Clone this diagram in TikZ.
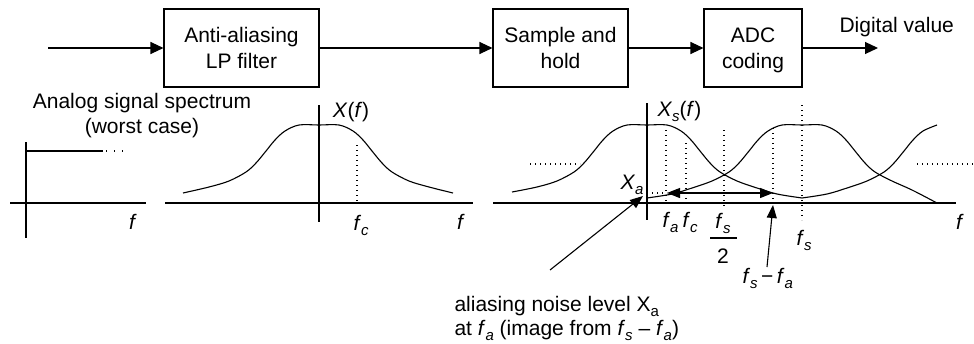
\documentclass[tikz,border=0pt]{standalone}
\usepackage{fontspec}
\setmainfont{Liberation Sans}
\usetikzlibrary{arrows.meta}
\newcommand\sbs[1]{\raisebox{-5pt}{\fontsize{15}{15}\selectfont #1}}
\begin{document}
\begin{tikzpicture}[x=1pt,y=-1pt, line width=1.1pt,
  txt/.style={font=\fontsize{21}{25.5}\selectfont, inner sep=0pt},
  blk/.style={draw, txt, align=center, minimum height=78pt, text depth=0pt},
  arr/.style={-{Triangle[length=13pt,width=12pt]}},
  sarr/.style={-{Triangle[length=13pt,width=10pt]}},
  darr/.style={{Triangle[length=13pt,width=10pt]}-{Triangle[length=13pt,width=10pt]}},
  dots/.style={dash pattern=on 1.2pt off 3.8pt, line width=1.1pt},
  crv/.style={smooth, tension=0.55}]
\useasboundingbox (0,0) rectangle (974,343);

% ---- block chain ----
\coordinate (in) at (48,48);
\node[blk, minimum width=155pt] (lp) at (241.5,48) {Anti-aliasing\\LP filter};
\node[blk, minimum width=135pt] (sh) at (560.5,48) {Sample and\\hold};
\node[blk, minimum width=98pt] (adc) at (753,48) {ADC\\coding};
\coordinate (out) at (878,48);
\draw[arr] (in) -- (lp);
\draw[arr] (lp) -- (sh);
\draw[arr] (sh) -- (adc);
\draw[arr] (adc) -- (out);
\node[txt, anchor=base west] (dv) at (839,32) {Digital value};

% ---- graph 1: analog spectrum ----
\node[txt, anchor=base] (an1) at (142,108) {Analog signal spectrum};
\node[txt, anchor=base] (an2) at (142,133) {(worst case)};
\draw (10,203) -- (146,203);
\draw (26,142) -- (26,238);
\draw (26,151) -- (103,151);
\draw[dash pattern=on 1.4pt off 6.6pt] (106,151) -- (126,151);
\node[txt, anchor=base] (f1) at (133,229) {\textit{f}};

% ---- graph 2: X(f) ----
\draw (165,203) -- (473,203);
\draw (319,105) -- (319,222);
\begin{scope}[shift={(319,203)}]
\draw[crv] plot coordinates {(-136,-10) (-110,-16) (-90,-22) (-73,-31) (-63,-40) (-53,-52) (-44,-63) (-34,-72) (-20,-78) (0,-78) (20,-78) (34,-72) (44,-63) (53,-52) (63,-40) (73,-31) (90,-22) (110,-16) (134,-10)};
\end{scope}
\draw[dots] (357,145) -- (357,203);
\node[txt, anchor=base] (xf) at (351,117) {\textit{X}(\textit{f})};
\node[txt, anchor=base west] (fc1) at (353,230) {\textit{f}\sbs{\textit{c}}};
\node[txt, anchor=base] (f2) at (461,229) {\textit{f}};

% ---- graph 3: sampled spectrum ----
\draw (493,203) -- (956,203);
\draw[line width=2.2pt] (647,203) -- (753,203);
\draw (647,103) -- (647,220);
\begin{scope}[shift={(647,203)}]
\draw[crv] plot coordinates {(-135,-11) (-110,-16) (-90,-22) (-73,-31) (-63,-40) (-53,-52) (-44,-63) (-34,-72) (-20,-78) (0,-78) (20,-78) (34,-72) (44,-63) (53,-52) (63,-40) (73,-31) (90,-22) (110,-15) (130,-9) (155,-5)};
\end{scope}
\begin{scope}[shift={(802,203)}]
\draw[crv] plot coordinates {(-155,-5) (-130,-9) (-110,-15) (-90,-22) (-73,-31) (-63,-40) (-53,-52) (-44,-63) (-34,-72) (-20,-78) (0,-78) (20,-78) (34,-72) (44,-63) (53,-52) (63,-40) (73,-31) (90,-22) (110,-13) (135,0)};
\end{scope}
\begin{scope}[shift={(957,203)}]
\draw[crv] plot coordinates {(-155,-5) (-130,-9) (-110,-15) (-90,-22) (-73,-31) (-63,-40) (-53,-52) (-44,-63) (-34,-72) (-20,-78)};
\end{scope}
\draw[dots] (530,164) -- (580,164);
\draw[dots] (917,164) -- (973,164);
\draw[dots] (666,130) -- (666,203);
\draw[dots] (686,143) -- (686,203);
\draw[dots] (724,130) -- (724,208);
\draw[dots] (773,128) -- (773,203);
\draw[dots] (802,105) -- (802,220);
\draw[dots] (647,193) -- (667,193);
\coordinate (fa) at (667,193);
\coordinate (fsfa) at (773,193);
\draw[darr] (fa) -- (fsfa);

\node[txt, anchor=base west] (xs) at (657,116) {\textit{X}\sbs{\textit{s}}(\textit{f})};
\node[txt, anchor=base west] (xa) at (620,189) {\textit{X}\sbs{\textit{a}}};
\node[txt, anchor=base west] (fal) at (662,227) {\textit{f}\sbs{\textit{a}}};
\node[txt, anchor=base west] (fcl) at (682,227) {\textit{f}\sbs{\textit{c}}};
\node[txt, anchor=base] (fsn) at (723,228) {\textit{f}\sbs{\textit{s}}};
\draw (710,238) -- (737,238);
\node[txt, anchor=base] (two) at (723,263) {2};
\node[txt, anchor=base west] (fsl) at (796,245) {\textit{f}\sbs{\textit{s}}};
\node[txt, anchor=base] (f3) at (960,229) {\textit{f}};
\node[txt, anchor=base west] (fsmfa) at (742,283) {\textit{f}\sbs{\textit{s}}\,−\,\textit{f}\sbs{\textit{a}}};

\coordinate (xatail) at (550,270);
\coordinate (xatip) at (643,196);
\draw[sarr] (xatail) -- (xatip);
\coordinate (fstail) at (767,267);
\coordinate (fstip) at (773,205);
\draw[sarr] (fstail) -- (fstip);

\node[txt, anchor=base west] (cap1) at (454,311) {aliasing noise level X\sbs{a}};
\node[txt, anchor=base west] (cap2) at (454,335) {at \textit{f}\sbs{\textit{a}} (image from \textit{f}\sbs{\textit{s}} – \textit{f}\sbs{\textit{a}})};
\end{tikzpicture}
\end{document}
